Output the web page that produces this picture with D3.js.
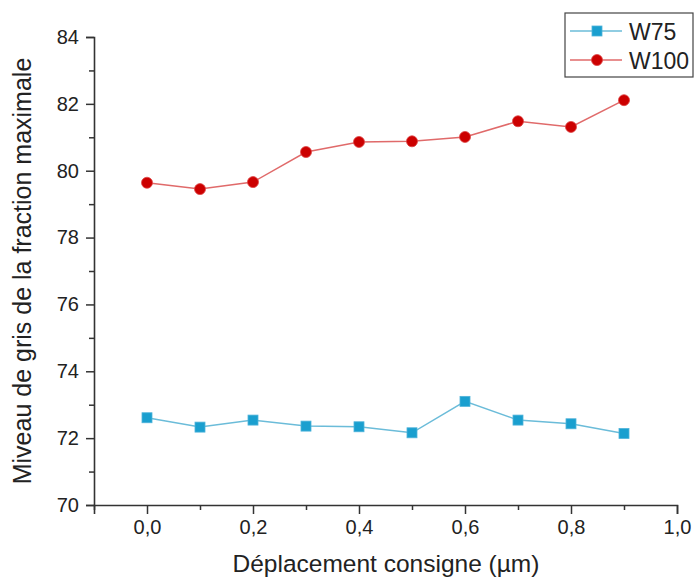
<!DOCTYPE html>
<html>
<head>
<meta charset="utf-8">
<script src="https://cdn.jsdelivr.net/npm/d3@7"></script>
<style>
  html, body { margin: 0; padding: 0; background: #fff; }
  svg { display: block; }
  text { font-family: "Liberation Sans", Arial, sans-serif; fill: #222; }
</style>
</head>
<body>
<svg id="chart" width="696" height="579"></svg>
<script>
const xValues = [0.0, 0.1, 0.2, 0.3, 0.4, 0.5, 0.6, 0.7, 0.8, 0.9];
const w75 = [72.61, 72.33, 72.54, 72.36, 72.34, 72.16, 73.10, 72.54, 72.43, 72.14];
const w100 = [79.64, 79.45, 79.66, 80.56, 80.86, 80.88, 81.01, 81.48, 81.31, 82.11];
const xMajorTicks = [0.0, 0.2, 0.4, 0.6, 0.8, 1.0];
const xMinorTicks = [-0.1, 0.1, 0.3, 0.5, 0.7, 0.9];
const yMajorTicks = [70, 72, 74, 76, 78, 80, 82, 84];
const yMinorTicks = [71, 73, 75, 77, 79, 81, 83];
const seriesNames = ["W75", "W100"];
const xTitle = "Déplacement consigne (µm)";
const yTitle = "Miveau de gris de la fraction maximale";

const svg = d3.select("#chart");
const x = d3.scaleLinear().domain([-0.1, 1.0]).range([94, 677]);
const y = d3.scaleLinear().domain([70, 84]).range([505, 37]);
const fmt = d => d3.format(".1f")(d).replace(".", ",");
const axisColor = "#333";
const tickFont = 20;

// X axis
const gx = svg.append("g").attr("transform", `translate(0,${y(70)})`);
gx.call(d3.axisBottom(x).tickValues(xMajorTicks).tickFormat(fmt).tickSize(9).tickPadding(6))
  .call(g => g.select(".domain").attr("stroke", axisColor).attr("stroke-width", 1.6))
  .call(g => g.selectAll(".tick line").attr("stroke", axisColor).attr("stroke-width", 1.5))
  .call(g => g.selectAll(".tick text").attr("font-size", tickFont).attr("font-family", "Liberation Sans, Arial, sans-serif").attr("fill", "#222"));
svg.append("g").attr("transform", `translate(0,${y(70)})`)
  .call(d3.axisBottom(x).tickValues(xMinorTicks).tickFormat("").tickSize(5))
  .call(g => g.select(".domain").remove())
  .call(g => g.selectAll(".tick line").attr("stroke", axisColor).attr("stroke-width", 1.5));

// Y axis
const gy = svg.append("g").attr("transform", `translate(${x(-0.1)},0)`);
gy.call(d3.axisLeft(y).tickValues(yMajorTicks).tickFormat(d3.format("d")).tickSize(8).tickPadding(7))
  .call(g => g.select(".domain").attr("stroke", axisColor).attr("stroke-width", 1.6))
  .call(g => g.selectAll(".tick line").attr("stroke", axisColor).attr("stroke-width", 1.5))
  .call(g => g.selectAll(".tick text").attr("font-size", tickFont).attr("font-family", "Liberation Sans, Arial, sans-serif").attr("fill", "#222"));
svg.append("g").attr("transform", `translate(${x(-0.1)},0)`)
  .call(d3.axisLeft(y).tickValues(yMinorTicks).tickFormat("").tickSize(5))
  .call(g => g.select(".domain").remove())
  .call(g => g.selectAll(".tick line").attr("stroke", axisColor).attr("stroke-width", 1.5));

// Titles
svg.append("text").attr("x", 386).attr("y", 572).attr("text-anchor", "middle")
  .attr("font-size", 24.5).text(xTitle);
svg.append("text").attr("transform", `translate(31,271) rotate(-90)`).attr("text-anchor", "middle")
  .attr("font-size", 25).text(yTitle);

// Series
const line = d3.line().x((d, i) => x(xValues[i])).y(d => y(d));
const c75Line = "#6bbcd9", c75 = "#1a9fcf";
const c100Line = "#e06a6a", c100 = "#cc0000";

svg.append("path").datum(w75).attr("d", line).attr("fill", "none").attr("stroke", c75Line).attr("stroke-width", 1.5);
svg.append("path").datum(w100).attr("d", line).attr("fill", "none").attr("stroke", c100Line).attr("stroke-width", 1.5);

const sq = 10;
svg.selectAll("rect.m75").data(w75).join("rect").attr("class", "m75")
  .attr("x", (d, i) => x(xValues[i]) - sq / 2).attr("y", d => y(d) - sq / 2)
  .attr("width", sq).attr("height", sq).attr("fill", c75).attr("stroke", "#4fb3da").attr("stroke-width", 0.8);
svg.selectAll("circle.m100").data(w100).join("circle").attr("class", "m100")
  .attr("cx", (d, i) => x(xValues[i])).attr("cy", d => y(d)).attr("r", 5.5)
  .attr("fill", c100).attr("stroke", "#dd4444").attr("stroke-width", 0.8);

// Legend
const lg = svg.append("g");
lg.append("rect").attr("x", 565).attr("y", 13).attr("width", 128).attr("height", 64)
  .attr("fill", "#fff").attr("stroke", "#444").attr("stroke-width", 1.2);
const legendRows = [
  { name: seriesNames[0], lineC: c75Line, c: c75, shape: "square", yy: 31 },
  { name: seriesNames[1], lineC: c100Line, c: c100, shape: "circle", yy: 60 }
];
legendRows.forEach(r => {
  lg.append("line").attr("x1", 570).attr("x2", 622).attr("y1", r.yy).attr("y2", r.yy)
    .attr("stroke", r.lineC).attr("stroke-width", 1.5);
  if (r.shape === "square") {
    lg.append("rect").attr("x", 597 - sq / 2).attr("y", r.yy - sq / 2).attr("width", sq).attr("height", sq)
      .attr("fill", r.c).attr("stroke", "#4fb3da").attr("stroke-width", 0.8);
  } else {
    lg.append("circle").attr("cx", 597).attr("cy", r.yy).attr("r", 5.5)
      .attr("fill", r.c).attr("stroke", "#dd4444").attr("stroke-width", 0.8);
  }
  lg.append("text").attr("x", 629).attr("y", r.yy + 8.5).attr("font-size", 23).text(r.name);
});
</script>
</body>
</html>
